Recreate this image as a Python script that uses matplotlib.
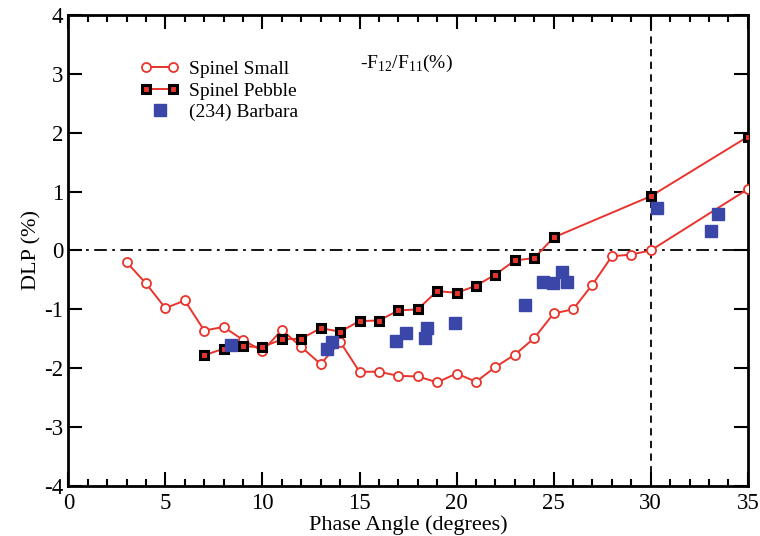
import matplotlib
matplotlib.use('Agg')
import matplotlib.pyplot as plt
from matplotlib.ticker import MultipleLocator
from matplotlib.legend_handler import HandlerLine2D

plt.rcParams['font.family'] = ['Liberation Serif', 'DejaVu Serif']
plt.rcParams['mathtext.fontset'] = 'custom'
plt.rcParams['mathtext.rm'] = 'Liberation Serif'
plt.rcParams['axes.unicode_minus'] = False

# Spinel Small (open red circles)
small_x = [3, 4, 5, 6, 7, 8, 9, 10, 11, 12, 13, 14, 15, 16, 17, 18, 19, 20,
           21, 22, 23, 24, 25, 26, 27, 28, 29, 30, 35]
small_y = [-0.20, -0.56, -0.98, -0.85, -1.36, -1.30, -1.52, -1.71, -1.35, -1.64,
           -1.93, -1.55, -2.06, -2.06, -2.13, -2.14, -2.24, -2.09, -2.23, -1.98,
           -1.77, -1.49, -1.07, -1.00, -0.58, -0.10, -0.07, 0.00, 1.04]

# Spinel Pebble (black squares, red centre)
pebble_x = [7, 8, 9, 10, 11, 12, 13, 14, 15, 16, 17, 18, 19, 20, 21, 22, 23,
            24, 25, 30, 35]
pebble_y = [-1.78, -1.67, -1.63, -1.64, -1.51, -1.50, -1.32, -1.38, -1.20, -1.19,
            -1.02, -1.00, -0.69, -0.72, -0.60, -0.41, -0.17, -0.13, 0.22, 0.92, 1.93]

# (234) Barbara
barbara_x = [8.4, 13.3, 13.6, 16.9, 17.4, 18.35, 18.5, 19.9, 23.55, 24.45,
             24.95, 25.45, 25.7, 30.3, 33.1, 33.45]
barbara_y = [-1.60, -1.67, -1.55, -1.53, -1.41, -1.49, -1.32, -1.23, -0.92, -0.53,
             -0.55, -0.36, -0.53, 0.72, 0.33, 0.62]

red = '#e8342c'

fig = plt.figure(figsize=(7.6, 5.36), dpi=100)
ax = fig.add_axes([0.0899, 0.0933, 0.894, 0.879])

ax.axhline(0, color='black', lw=1.3, ls=(0, (7, 3, 1.5, 3)), zorder=1)
ax.axvline(30, color='black', lw=1.3, ls=(0, (4, 3)), zorder=1)

ax.plot(small_x, small_y, color=red, lw=1.4, marker='o', ms=6.5,
        mfc='white', mec=red, mew=1.3, label='Spinel Small', zorder=3)
ax.plot(pebble_x, pebble_y, color=red, lw=1.4, marker='s', ms=6,
        mfc=red, mec='black', mew=2.2, label='Spinel Pebble', zorder=4)
barbara, = ax.plot(barbara_x, barbara_y, ls='none', marker='s', ms=8.5,
                   color='#3a47a8', label='(234) Barbara', zorder=5)

ax.text(15, 3.1, r'-F$_{12}$/F$_{11}$(%)', fontsize=14)

ax.set_xlim(0, 35)
ax.set_ylim(-4, 4)
ax.xaxis.set_major_locator(MultipleLocator(5))
ax.xaxis.set_minor_locator(MultipleLocator(1))
ax.yaxis.set_major_locator(MultipleLocator(1))
ax.tick_params(which='both', direction='in', top=True, right=True, labelsize=16.5,
               width=1.5)
ax.tick_params(which='major', length=10)
ax.tick_params(which='minor', length=5)
ax.tick_params(axis='x', pad=5)
for s in ax.spines.values():
    s.set_linewidth(2)

ax.set_xlabel('Phase Angle (degrees)', fontsize=16, labelpad=1)
ax.set_ylabel('DLP (%)', fontsize=16, labelpad=2)

ax.legend(loc='upper left', bbox_to_anchor=(0.08, 0.94), frameon=False,
          fontsize=14, numpoints=2, handlelength=2.0, handletextpad=0.5,
          labelspacing=0.2, handler_map={barbara: HandlerLine2D(numpoints=1)})

fig.savefig('out.png', dpi=100)
